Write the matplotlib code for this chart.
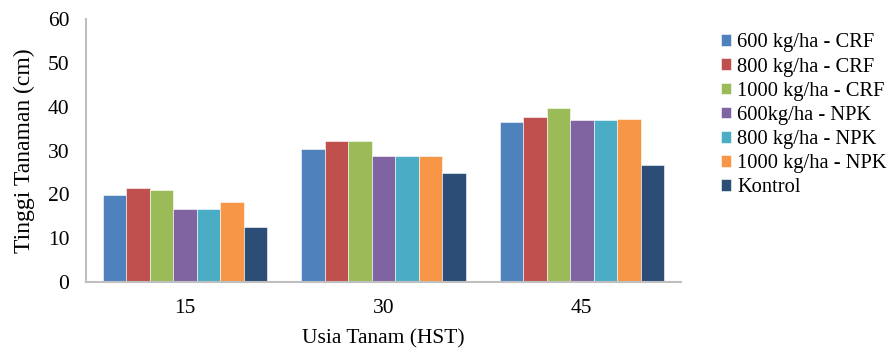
import numpy as np
import matplotlib
matplotlib.use('Agg')
from matplotlib import pyplot as plt

# data
ages = ['15', '30', '45']
series = ['600 kg/ha - CRF', '800 kg/ha - CRF', '1000 kg/ha - CRF',
          '600kg/ha - NPK', '800 kg/ha - NPK', '1000 kg/ha - NPK', 'Kontrol']
crf_600 = [19.9, 30.4, 36.5]
crf_800 = [21.5, 32.1, 37.7]
crf_1000 = [21.0, 32.1, 39.8]
npk_600 = [16.7, 28.7, 36.9]
npk_800 = [16.7, 28.7, 36.9]
npk_1000 = [18.3, 28.7, 37.1]
kontrol = [12.6, 24.8, 26.6]
values = [crf_600, crf_800, crf_1000, npk_600, npk_800, npk_1000, kontrol]

colors = ['#4F81BD', '#C0504D', '#9BBB59', '#8064A2', '#4BACC6', '#F79646', '#2C4D75']

plt.rcParams['font.family'] = ['Liberation Serif', 'DejaVu Serif']

fig = plt.figure(figsize=(8.93, 3.52), dpi=100)
ax = fig.add_axes([86 / 893, 70 / 352, 595 / 893, 263 / 352])

x = np.arange(len(ages))
w = 0.1185
for i, (name, vals) in enumerate(zip(series, values)):
    ax.bar(x + (i - 3) * w, vals, w, color=colors[i], label=name,
           edgecolor='white', linewidth=0.4)

ax.set_xlim(-0.5, 2.5)
ax.set_ylim(0, 60)
ax.set_yticks(range(0, 61, 10))
ax.set_xticks(x)
ax.set_xticklabels(ages)
ax.tick_params(length=0, labelsize=15.5)
ax.tick_params(axis='y', pad=12)
ax.tick_params(axis='x', pad=12)
for s in ['top', 'right']:
    ax.spines[s].set_visible(False)
for s in ['left', 'bottom']:
    ax.spines[s].set_color('#BFBFBF')
    ax.spines[s].set_linewidth(1.5)

ax.set_ylabel('Tinggi Tanaman (cm)', fontsize=17, labelpad=9)
ax.set_xlabel('Usia Tanam (HST)', fontsize=15.5, labelpad=8)

ax.legend(loc='upper left', bbox_to_anchor=(721 / 893, 0.905), bbox_transform=fig.transFigure,
          frameon=False, fontsize=14.8, handlelength=0.5, handleheight=0.5,
          handletextpad=0.3, labelspacing=0.25, borderaxespad=0, borderpad=0)

fig.savefig('out.png', dpi=100)
